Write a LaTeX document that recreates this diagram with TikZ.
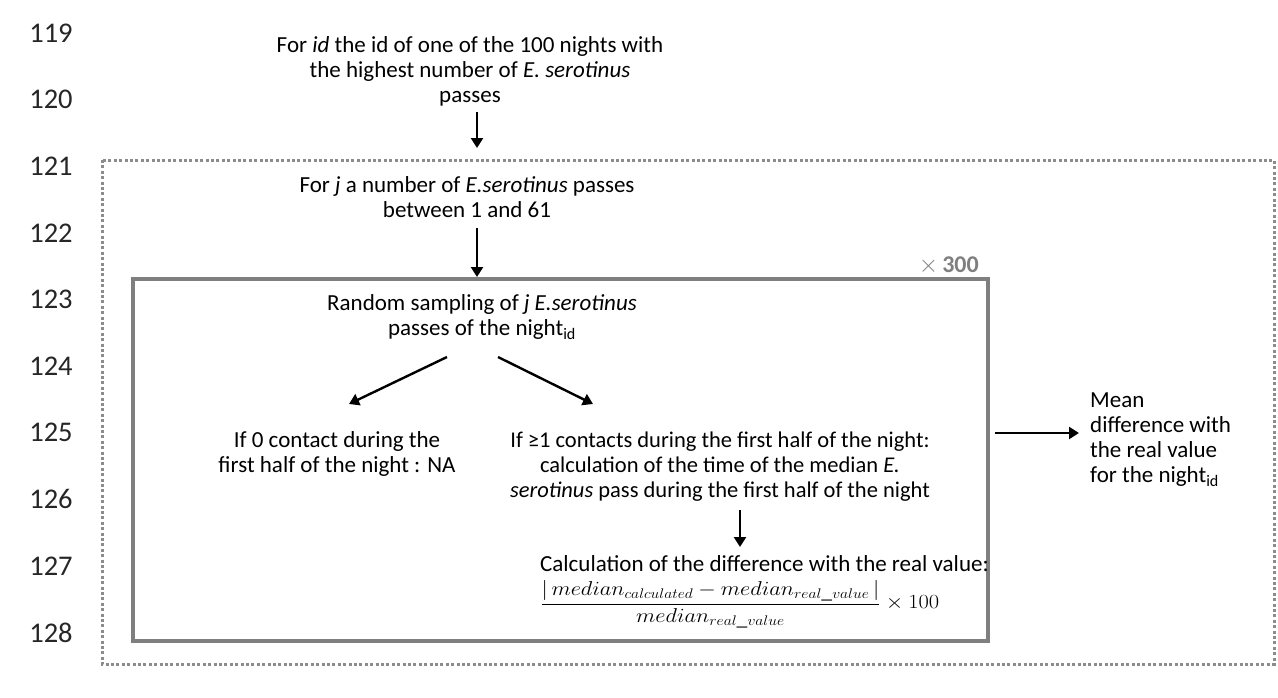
\documentclass[tikz,border=0pt]{standalone}
\usepackage{fontspec}
\setmainfont{Carlito}
\usetikzlibrary{arrows.meta}
\definecolor{boxgray}{HTML}{7F7F7F}
\definecolor{dotgray}{HTML}{8C8C8C}
\tikzset{
  txt/.style={inner sep=0pt, align=center, font=\fontsize{23}{25}\selectfont},
  lnum/.style={inner sep=0pt, font=\fontsize{28.5}{29}\selectfont, text=black!85},
  arr/.style={line width=2.4pt, -{Triangle[length=10pt,width=12pt]}},
  dotbox/.style={draw=dotgray, line width=3pt, dash pattern=on 3pt off 2.4pt},
  solidbox/.style={draw=boxgray, line width=3.5pt},
}
\begin{document}
\begin{tikzpicture}[x=1pt,y=-1pt]
\useasboundingbox (0,0) rectangle (1278,697);
% line numbers
\foreach \n [count=\i from 0] in {119,...,128}
  \node[lnum] (ln\n) at (51,{33+66.6*\i}) {\n};
% boxes
\draw[dotbox] (102,160) rectangle (1274,664);
\draw[solidbox] (133,279) rectangle (988,641);
\node[inner sep=0pt, anchor=south east, text=boxgray, font=\fontsize{24}{25}\selectfont] (times) at (979,275) {$\times$\,\textbf{300}};
% texts
\node[txt] (top) at (470,71) {For \textit{id} the id of one of the 100 nights with\\the highest number of \textit{E. serotinus}\\passes};
\node[txt] (forj) at (467,197) {For \textit{j} a number of \textit{E.serotinus} passes\\between 1 and 61};
\node[txt] (rand) at (482,317) {Random sampling of \textit{j E.serotinus}\\passes of the night\textsubscript{id}};
\node[txt] (left) at (337,454) {If 0 contact during the\\first half of the night : NA};
\node[txt, font=\fontsize{22.5}{25}\selectfont] (mid) at (720,467) {If ≥1 contacts during the first half of the night:\\calculation of the time of the median \textit{E.}\\\textit{serotinus} pass during the first half of the night};
\node[txt, anchor=west] (calc) at (540,564) {Calculation of the difference with the real value:};
\node[inner sep=0pt, anchor=north west, font=\fontsize{20}{22}\selectfont] (formula) at (540,580)
  {\resizebox*{399pt}{48pt}{$\displaystyle\frac{|\,median_{calculated}-median_{real\_value}\,|}{median_{real\_value}}\times100$}};
\node[txt, align=left, anchor=west] (mean) at (1090,440) {Mean\\difference with\\the real value\\for the night\textsubscript{id}};
% arrow coordinates
\coordinate (a1s) at (477,112); \coordinate (a1e) at (477,148);
\coordinate (a2s) at (477,228); \coordinate (a2e) at (477,277);
\coordinate (a3s) at (447,357); \coordinate (a3e) at (349,404);
\coordinate (a4s) at (498,357); \coordinate (a4e) at (593,404);
\coordinate (a5s) at (740,510); \coordinate (a5e) at (740,547);
\coordinate (a6s) at (995,433); \coordinate (a6e) at (1079,433);
\draw[arr] (a1s) -- (a1e);
\draw[arr] (a2s) -- (a2e);
\draw[arr] (a3s) -- (a3e);
\draw[arr] (a4s) -- (a4e);
\draw[arr] (a5s) -- (a5e);
\draw[arr] (a6s) -- (a6e);
\end{tikzpicture}
\end{document}
